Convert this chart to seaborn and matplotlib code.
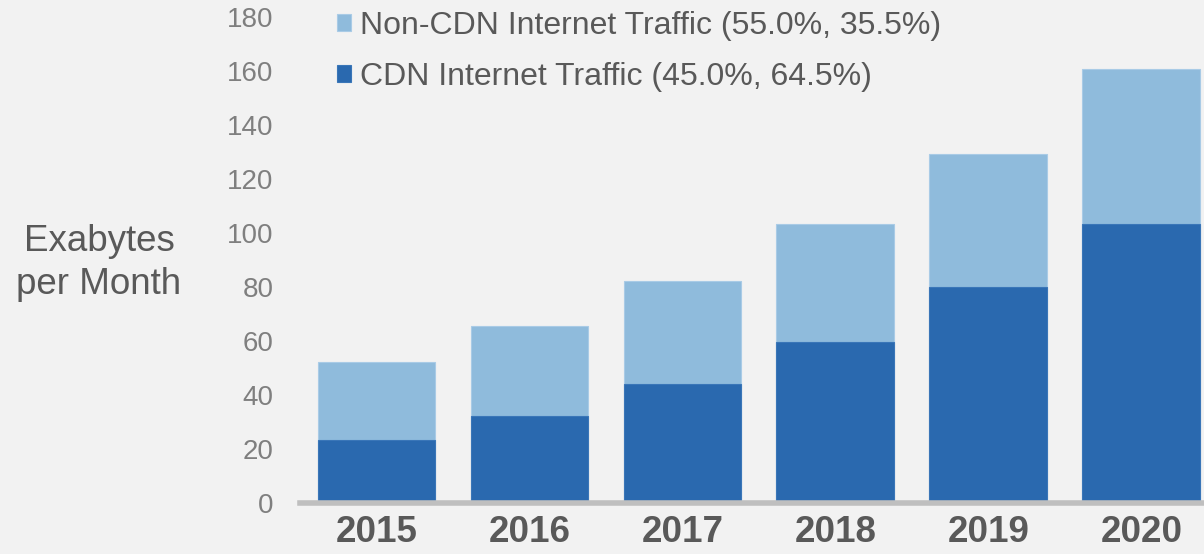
import matplotlib
matplotlib.use("Agg")
import matplotlib.pyplot as plt
import seaborn as sns
import pandas as pd

years = ["2015", "2016", "2017", "2018", "2019", "2020"]
cdn = [23.5, 32.2, 44.1, 59.6, 80.0, 103.5]
total = [52.2, 65.6, 82.2, 103.3, 129.3, 160.7]
yticks = [0, 20, 40, 60, 80, 100, 120, 140, 160, 180]
label_non = "Non-CDN Internet Traffic (55.0%, 35.5%)"
label_cdn = "CDN Internet Traffic (45.0%, 64.5%)"

sns.set_theme(style="white")
plt.rcParams["font.family"] = ["Liberation Sans", "DejaVu Sans"]

light = "#8FBBDC"
dark = "#2A69AF"
bg = "#F2F2F2"

df = pd.DataFrame({"year": years, "cdn": cdn, "total": total})

fig = plt.figure(figsize=(12.04, 5.54), dpi=100, facecolor=bg)
ax = fig.add_axes([300 / 1204, 51 / 554, 904 / 1204, (503 - 17) / 554])
ax.set_facecolor(bg)

sns.barplot(data=df, x="year", y="total", color=light, saturation=1,
            width=0.77, ax=ax, label=label_non, edgecolor="#A9CBE6", linewidth=0.8)
sns.barplot(data=df, x="year", y="cdn", color=dark, saturation=1,
            width=0.77, ax=ax, label=label_cdn, edgecolor="#3A76B8", linewidth=0.8)

ax.set_ylim(0, 180)
ax.set_xlim(-0.5, 5.41)
ax.set_yticks(yticks)
ax.set_yticklabels([str(v) for v in yticks], fontsize=20, color="#7F7F7F")
ax.tick_params(axis="y", length=0, pad=19)
ax.tick_params(axis="x", length=0, pad=9)
for lbl in ax.get_xticklabels():
    lbl.set_fontsize(26.5)
    lbl.set_fontweight("bold")
    lbl.set_color("#595959")
ax.set_xlabel("")
ax.set_ylabel("")

for s in ["top", "right", "left"]:
    ax.spines[s].set_visible(False)
ax.spines["bottom"].set_color("#BFBFBF")
ax.spines["bottom"].set_linewidth(4)

fig.text(99 / 1204, 1 - 263 / 554, "Exabytes\nper Month", ha="center", va="center",
         fontsize=26.5, color="#595959", linespacing=1.3)

leg = ax.legend(loc="upper left", bbox_to_anchor=(337 / 1204, 1 - 11 / 554),
                bbox_transform=fig.transFigure, frameon=False, fontsize=23,
                handlelength=0.45, handleheight=0.45, handletextpad=0.28,
                labelspacing=0.66, borderpad=0, borderaxespad=0)
for t in leg.get_texts():
    t.set_color("#595959")

fig.savefig("out.png", dpi=100, facecolor=bg)
